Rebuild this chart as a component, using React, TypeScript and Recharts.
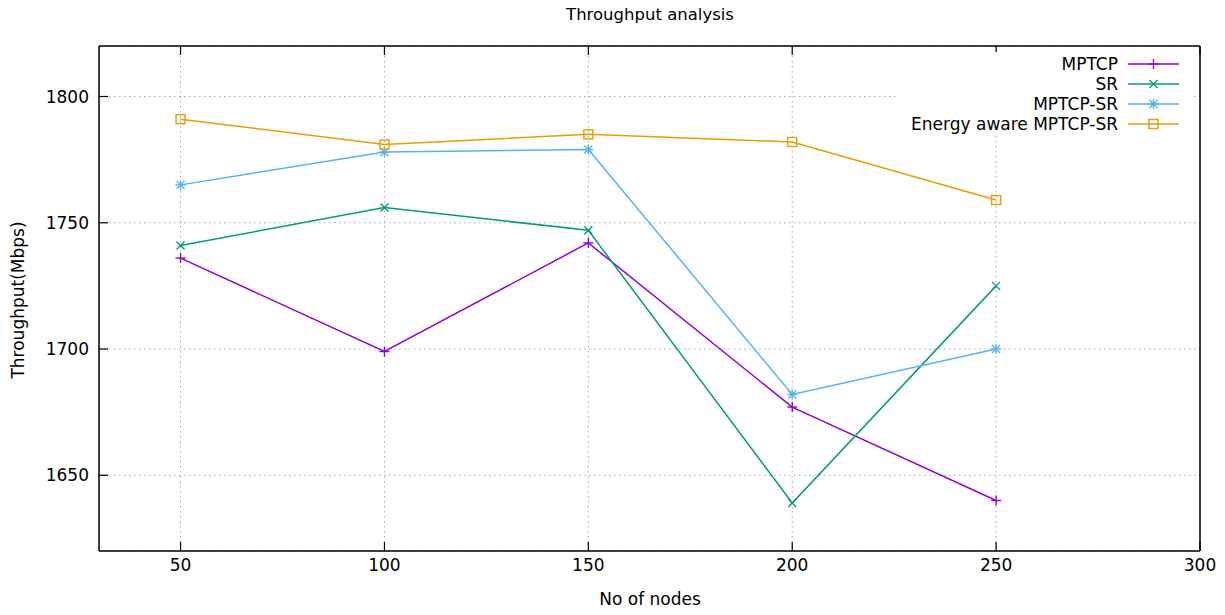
import { LineChart, Line, XAxis, YAxis, CartesianGrid } from 'recharts';

const nodes = [50, 100, 150, 200, 250];
const mptcp = [1736, 1699, 1742, 1677, 1640];
const sr = [1741, 1756, 1747, 1639, 1725];
const mptcpSr = [1765, 1778, 1779, 1682, 1700];
const energyAware = [1791, 1781, 1785, 1782, 1759];

const xTicks = [50, 100, 150, 200, 250, 300];
const yTicks = [1650, 1700, 1750, 1800];

const data = nodes.map((n, i) => ({
  nodes: n,
  mptcp: mptcp[i],
  sr: sr[i],
  mptcpSr: mptcpSr[i],
  energy: energyAware[i],
}));

const FONT = '"DejaVu Sans", Verdana, sans-serif';
const TICK_LEN = 9;

const series = [
  { key: 'mptcp', name: 'MPTCP', color: '#9400d3', marker: 'plus' },
  { key: 'sr', name: 'SR', color: '#009e73', marker: 'cross' },
  { key: 'mptcpSr', name: 'MPTCP-SR', color: '#56b4e9', marker: 'star' },
  { key: 'energy', name: 'Energy aware MPTCP-SR', color: '#e69f00', marker: 'square' },
];

const Marker = ({ cx, cy, color, type }: any) => {
  if (cx == null || cy == null) return null;
  const r = 5;
  const c = r * 0.8;
  const p = { stroke: color, strokeWidth: 1.4, fill: 'none' };
  if (type === 'plus')
    return (
      <g>
        <line x1={cx - r} x2={cx + r} y1={cy} y2={cy} {...p} />
        <line x1={cx} x2={cx} y1={cy - r} y2={cy + r} {...p} />
      </g>
    );
  if (type === 'cross')
    return (
      <g>
        <line x1={cx - c} x2={cx + c} y1={cy - c} y2={cy + c} {...p} />
        <line x1={cx - c} x2={cx + c} y1={cy + c} y2={cy - c} {...p} />
      </g>
    );
  if (type === 'star')
    return (
      <g>
        <line x1={cx - r} x2={cx + r} y1={cy} y2={cy} {...p} />
        <line x1={cx} x2={cx} y1={cy - r} y2={cy + r} {...p} />
        <line x1={cx - c} x2={cx + c} y1={cy - c} y2={cy + c} {...p} />
        <line x1={cx - c} x2={cx + c} y1={cy + c} y2={cy - c} {...p} />
      </g>
    );
  return <rect x={cx - 4.5} y={cy - 4.5} width={9} height={9} {...p} />;
};

const BottomTick = ({ x, y, payload }: any) => (
  <g>
    <line x1={x} x2={x} y1={y - 12} y2={y - 12 - TICK_LEN} stroke="#000" strokeWidth={1.2} />
    <text x={x} y={y} dy={8} textAnchor="middle" fontSize={17} fontFamily={FONT} fill="#000">
      {payload.value}
    </text>
  </g>
);

const TopTick = ({ x, y }: any) => (
  <line x1={x} x2={x} y1={y} y2={y + TICK_LEN} stroke="#000" strokeWidth={1.2} />
);

const LeftTick = ({ x, y, payload }: any) => (
  <g>
    <line x1={x + 10} x2={x + 10 + TICK_LEN} y1={y} y2={y} stroke="#000" strokeWidth={1.2} />
    <text x={x} y={y} dy={6} textAnchor="end" fontSize={17} fontFamily={FONT} fill="#000">
      {payload.value}
    </text>
  </g>
);

const RightTick = ({ x, y }: any) => (
  <line x1={x} x2={x - TICK_LEN} y1={y} y2={y} stroke="#000" strokeWidth={1.2} />
);

const LegendBox = () => (
  <div
    style={{
      position: 'absolute',
      left: 898,
      top: 52,
      width: 296,
      height: 84,
      background: '#fff',
      fontFamily: FONT,
      fontSize: 17,
      color: '#000',
    }}
  >
    {series.map((s, i) => (
      <div
        key={s.key}
        style={{
          position: 'absolute',
          right: 0,
          top: 2 + i * 20,
          height: 20,
          display: 'flex',
          alignItems: 'center',
        }}
      >
        <span style={{ marginRight: 10, whiteSpace: 'nowrap' }}>{s.name}</span>
        <svg width={56} height={20} style={{ marginRight: 10 }}>
          <line x1={0} x2={51} y1={10} y2={10} stroke={s.color} strokeWidth={1.5} />
          <Marker cx={25.5} cy={10} color={s.color} type={s.marker} />
        </svg>
      </div>
    ))}
  </div>
);

export default function App() {
  return (
    <div
      style={{
        position: 'absolute',
        left: 0,
        top: 0,
        width: 1225,
        height: 615,
        background: '#fff',
        overflow: 'hidden',
      }}
    >
      <LineChart
        width={1225}
        height={615}
        data={data}
        margin={{ top: 45, right: 24, bottom: 34, left: 39 }}
      >
        <CartesianGrid
          stroke="#a8a8a8"
          strokeDasharray="1.5 3.5"
          strokeWidth={1}
          xAxisId="bottom"
          yAxisId="left"
        />
        <XAxis
          xAxisId="bottom"
          type="number"
          dataKey="nodes"
          domain={[30, 300]}
          ticks={xTicks}
          interval={0}
          height={30}
          tickSize={0}
          tickMargin={12}
          tick={<BottomTick />}
          axisLine={{ stroke: '#000', strokeWidth: 1.5 }}
          tickLine={false}
        />
        <XAxis
          xAxisId="top"
          orientation="top"
          type="number"
          dataKey="nodes"
          domain={[30, 300]}
          ticks={xTicks}
          interval={0}
          height={1}
          tickSize={0}
          tickMargin={0}
          tick={<TopTick />}
          axisLine={{ stroke: '#000', strokeWidth: 1.5 }}
          tickLine={false}
        />
        <YAxis
          yAxisId="left"
          domain={[1620, 1820]}
          ticks={yTicks}
          interval={0}
          width={60}
          tickSize={0}
          tickMargin={10}
          tick={<LeftTick />}
          axisLine={{ stroke: '#000', strokeWidth: 1.5 }}
          tickLine={false}
        />
        <YAxis
          yAxisId="right"
          orientation="right"
          domain={[1620, 1820]}
          ticks={yTicks}
          interval={0}
          width={1}
          tickSize={0}
          tickMargin={0}
          tick={<RightTick />}
          axisLine={{ stroke: '#000', strokeWidth: 1.5 }}
          tickLine={false}
        />
        {series.map((s) => (
          <Line
            key={s.key}
            xAxisId="bottom"
            yAxisId="left"
            type="linear"
            dataKey={s.key}
            name={s.name}
            stroke={s.color}
            strokeWidth={1.5}
            dot={(props: any) => (
              <Marker key={`${s.key}-${props.index}`} cx={props.cx} cy={props.cy} color={s.color} type={s.marker} />
            )}
            activeDot={false}
            isAnimationActive={false}
          />
        ))}
      </LineChart>

      <LegendBox />

      <div
        style={{
          position: 'absolute',
          left: 0,
          top: 5,
          width: 1300,
          textAlign: 'center',
          fontFamily: FONT,
          fontSize: 16.5,
          color: '#000',
        }}
      >
        Throughput analysis
      </div>
      <div
        style={{
          position: 'absolute',
          left: 0,
          top: 589,
          width: 1300,
          textAlign: 'center',
          fontFamily: FONT,
          fontSize: 17,
          color: '#000',
        }}
      >
        No of nodes
      </div>
      <div
        style={{
          position: 'absolute',
          left: 18,
          top: 300,
          transform: 'translate(-50%, -50%) rotate(-90deg)',
          whiteSpace: 'nowrap',
          fontFamily: FONT,
          fontSize: 17,
          color: '#000',
        }}
      >
        Throughput(Mbps)
      </div>
    </div>
  );
}
